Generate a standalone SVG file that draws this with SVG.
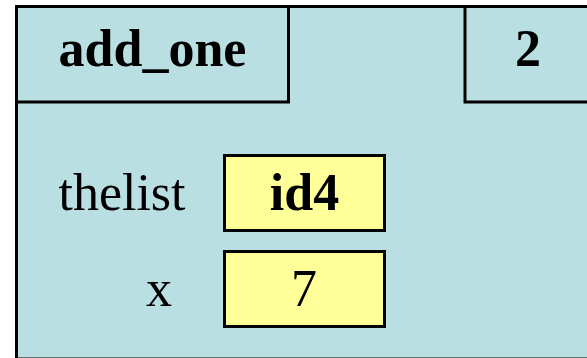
<svg xmlns="http://www.w3.org/2000/svg" width="587" height="358" viewBox="0 0 587 358">
<style>
.frame{fill:#B9DFE2;stroke:#000;stroke-width:3}
.val{fill:#FFFF99;stroke:#000;stroke-width:3}
.t{font-family:"Liberation Serif","Times New Roman",serif;font-size:52px;fill:#000}
.b{font-weight:bold}
</style>
<g id="frame">
<rect class="frame" x="16.5" y="6.5" width="600" height="352.5"/>
</g>
<g id="header-name">
<rect class="frame" x="16.5" y="6.5" width="272" height="95.5"/>
<text class="t b" x="152.5" y="66" text-anchor="middle">add_one</text>
</g>
<g id="header-number">
<rect class="frame" x="465" y="6.5" width="150" height="95.5"/>
<text class="t b" x="528" y="66" text-anchor="middle">2</text>
</g>
<g id="var-thelist">
<text class="t" x="122" y="209.5" text-anchor="middle">thelist</text>
<rect class="val" x="224.5" y="155.5" width="160" height="75"/>
<text class="t b" x="304.5" y="210" text-anchor="middle">id4</text>
</g>
<g id="var-x">
<text class="t" x="159" y="305.5" text-anchor="middle">x</text>
<rect class="val" x="224.5" y="251.5" width="160" height="75"/>
<text class="t" x="304" y="305.5" text-anchor="middle">7</text>
</g>
<g id="connectors"></g>
</svg>
